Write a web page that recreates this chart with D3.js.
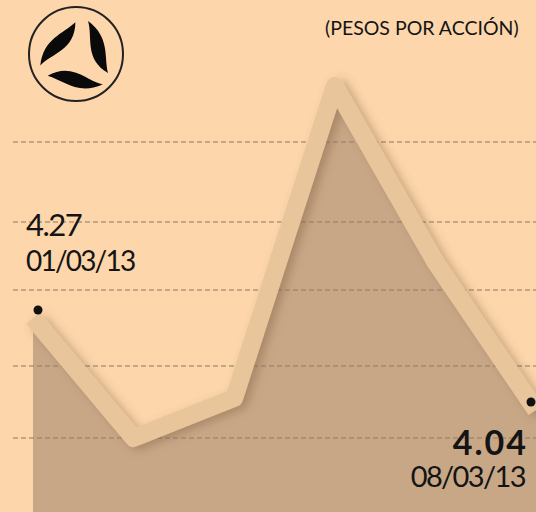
<!DOCTYPE html>
<html>
<head>
<meta charset="utf-8">
<script src="https://cdn.jsdelivr.net/npm/d3@7"></script>
<style>
  html, body { margin: 0; padding: 0; background: #fdd6ab; }
  svg { display: block; }
</style>
</head>
<body>
<div class="vis-chart"></div>
<script>
// trading days 1-8 March 2013
const dates = ["01/03/13", "04/03/13", "05/03/13", "06/03/13", "07/03/13", "08/03/13"];
const values = [4.27, 3.97, 4.07, 4.85, 4.41, 4.04];
const gridValues = [4.71, 4.51, 4.34, 4.15, 3.97];
const unitLabel = "(PESOS POR ACCIÓN)";

const width = 536;
const height = 512;

const data = dates.map((d, i) => ({ date: d, value: values[i] }));

var svg = d3.select('.vis-chart').append("svg")
    .attr("width", width)
    .attr("height", height);

var defs = svg.append("defs");
var shadow = defs.append("filter")
    .attr("id", "shadow")
    .attr("x", "-20%").attr("y", "-20%")
    .attr("width", "140%").attr("height", "140%");
shadow.append("feDropShadow")
    .attr("dx", 5).attr("dy", 3)
    .attr("stdDeviation", 5)
    .attr("flood-color", "#7a5a3a")
    .attr("flood-opacity", 0.4);

svg.append("rect")
    .attr("width", width).attr("height", height)
    .attr("fill", "#fdd6ab");

// scales
var x = d3.scalePoint().domain(dates).range([33, 536]);
var y = d3.scaleLinear().domain([3.9, 4.9]).range([466, 66]);

// area under the line
var area = d3.area()
    .x(d => x(d.date))
    .y0(height)
    .y1(d => y(d.value));

svg.append("path")
    .datum(data)
    .attr("fill", "#c8a787")
    .attr("d", area);

// dashed grid lines
svg.append("g")
    .selectAll("line")
    .data(gridValues)
    .join("line")
    .attr("x1", 13).attr("x2", width)
    .attr("y1", d => y(d)).attr("y2", d => y(d))
    .attr("stroke", "#9a8066")
    .attr("stroke-opacity", 0.75)
    .attr("stroke-width", 1.3)
    .attr("stroke-dasharray", "5,3");

// thick line
var line = d3.line()
    .x(d => x(d.date))
    .y(d => y(d.value));

svg.append("path")
    .datum(data)
    .attr("fill", "none")
    .attr("stroke", "#e9c59c")
    .attr("stroke-width", 18)
    .attr("stroke-linejoin", "round")
    .attr("filter", "url(#shadow)")
    .attr("d", line);

// end dots
var ends = [data[0], data[data.length - 1]];
svg.selectAll(".dot")
    .data(ends)
    .join("circle")
    .attr("class", "dot")
    .attr("cx", (d, i) => x(d.date) + (i === 0 ? 5 : -5))
    .attr("cy", d => y(d.value) - 8)
    .attr("r", 4.5)
    .attr("fill", "#111");

// labels
var font = "Lato, 'Open Sans', sans-serif";
var first = data[0], last = data[data.length - 1];

function label(txt, xPos, yPos, size, weight, spacing, anchor) {
    svg.append("text")
        .attr("x", xPos).attr("y", yPos)
        .attr("text-anchor", anchor)
        .attr("font-family", font)
        .attr("font-size", size)
        .attr("font-weight", weight)
        .attr("letter-spacing", spacing)
        .attr("fill", "#141414")
        .text(txt);
}

label(first.value.toFixed(2), 26, 236, 31, 400, -1.5, "start");
label(first.date, 26, 271, 28, 400, -1.8, "start");
label(last.value.toFixed(2), 528, 455, 34, 700, 2, "end");
label(last.date, 525, 487, 29, 400, -1.6, "end");
label(unitLabel, 325, 35, 19.5, 400, 0, "start");

// logo
var logo = svg.append("g").attr("transform", "translate(76,54)");
logo.append("circle")
    .attr("r", 47)
    .attr("fill", "none")
    .attr("stroke", "#222")
    .attr("stroke-width", 2);
var leaf = "M 11,-36 C 33,-20 27,0 31,16 C 7,2 16,-20 11,-36 Z";
logo.append("g")
    .attr("transform", "translate(1,3)")
    .selectAll("path")
    .data([0, 120, 240])
    .join("path")
    .attr("d", leaf)
    .attr("transform", d => "rotate(" + d + ")")
    .attr("fill", "#0a0a0a");
</script>
</body>
</html>
